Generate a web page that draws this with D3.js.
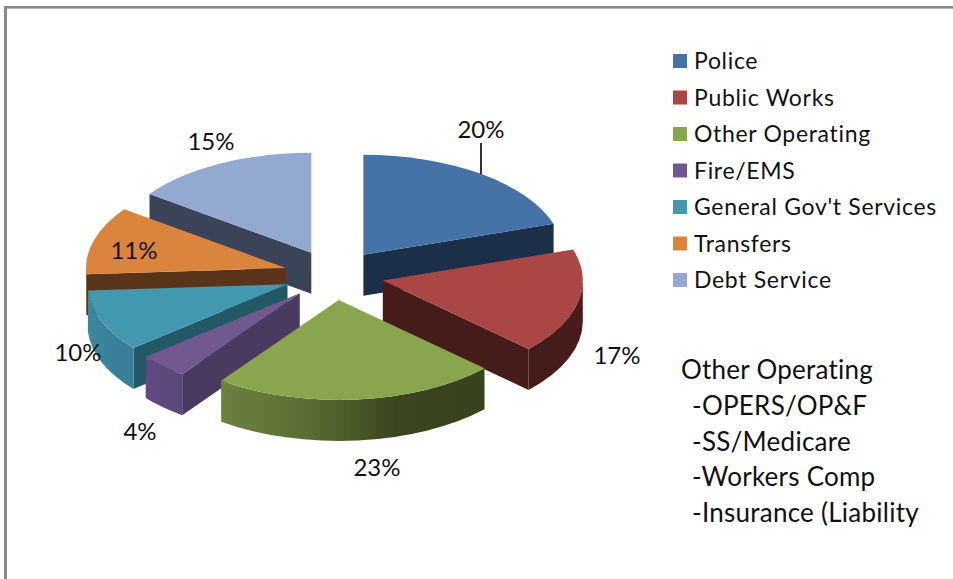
<!DOCTYPE html>
<html>
<head>
<meta charset="utf-8">
<script src="https://cdn.jsdelivr.net/npm/d3@7/dist/d3.min.js"></script>
<style>
  html, body { margin: 0; padding: 0; background: #fff; }
  svg { display: block; }
  text { font-family: Lato, "Open Sans", sans-serif; fill: #111; }
</style>
</head>
<body>
<script>
// Budget shares, percent of the total
const categories = ["Police", "Public Works", "Other Operating", "Fire/EMS",
                    "General Gov't Services", "Transfers", "Debt Service"];
const shares = [20, 17, 23, 4, 10, 11, 15];
const noteLines = ["Other Operating", "-OPERS/OP&F", "-SS/Medicare", "-Workers Comp", "-Insurance (Liability"];

// Slice palette: top face, radial wall, rim gradient from left to right
const topColors = ["#4572A7", "#AA4643", "#89A54E", "#71588F", "#4198AF", "#DB843D", "#93A9CF"];
const wallColors = ["#1b2f48", "#461c1a", "#37421c", "#4b3a60", "#235866", "#5a3418", "#3b4358"];
const rimStops = [
  ["#1b2f48", "#1b2f48"],
  ["#461c1a", "#461c1a", "#4a1c1a"],
  ["#6c8240", "#5a6d33", "#3a461e", "#37421c"],
  ["#604a80", "#5c4779"],
  ["#3c88a0", "#387c93"],
  ["#5a3418", "#5a3418"],
  ["#3b4358", "#3b4358"]
];
// Label centres relative to the pie centre
const labelOffsets = [[147, -147], [283, 79], [43, 191], [-194, 155], [-256, 76], [-200, -26], [-123, -135]];

const width = 953, height = 579;
const cx = 334, cy = 275;          // pie centre before the slices are pulled apart
const rx = 200, ry = 100;          // radii of the tilted top ellipse
const depth = 41;                  // thickness of the pie
const explode = 0.25;              // pull-out as a fraction of the radius

const svg = d3.select("body").append("svg").attr("width", width).attr("height", height);
const defs = svg.append("defs");

// Frame along the top and left edges
svg.append("rect").attr("x", 4).attr("y", 6).attr("width", width - 4).attr("height", 2.6).attr("fill", "#8a8a8a");
svg.append("rect").attr("x", 4).attr("y", 6).attr("width", 3).attr("height", height - 6).attr("fill", "#8a8a8a");

const slices = d3.pie().sort(null).value(d => d)(shares).map((s, i) => {
  const mid = (s.startAngle + s.endAngle) / 2;
  return {
    ...s, i, mid,
    ox: cx + rx * explode * Math.sin(mid),
    oy: cy - ry * explode * Math.cos(mid)
  };
});

const topArc = d3.arc().innerRadius(0).outerRadius(rx);
const px = (s, a) => s.ox + rx * Math.sin(a);
const py = (s, a) => s.oy - ry * Math.cos(a);

// Flat wall running from the slice's apex out to the rim at angle a
function radialWall(s, a) {
  const p = d3.path();
  p.moveTo(s.ox, s.oy);
  p.lineTo(px(s, a), py(s, a));
  p.lineTo(px(s, a), py(s, a) + depth);
  p.lineTo(s.ox, s.oy + depth);
  p.closePath();
  return p.toString();
}

// Curved rim between two angles on the front half of the ellipse
function rimWall(s, a0, a1) {
  return `M${px(s, a0)},${py(s, a0)}` +
    `A${rx},${ry} 0 0 1 ${px(s, a1)},${py(s, a1)}` +
    `L${px(s, a1)},${py(s, a1) + depth}` +
    `A${rx},${ry} 0 0 0 ${px(s, a0)},${py(s, a0) + depth}Z`;
}

// Back slices first, so nearer ones paint over them
const ordered = slices.slice().sort((a, b) => (-Math.cos(a.mid)) - (-Math.cos(b.mid)));

ordered.forEach(s => {
  const g = svg.append("g");
  const a0 = Math.max(s.startAngle, Math.PI / 2);
  const a1 = Math.min(s.endAngle, Math.PI * 1.5);

  if (Math.sin(s.startAngle) < -1e-6) {
    g.append("path").attr("d", radialWall(s, s.startAngle)).attr("fill", wallColors[s.i]);
  }
  if (Math.sin(s.endAngle) > 1e-6) {
    g.append("path").attr("d", radialWall(s, s.endAngle)).attr("fill", wallColors[s.i]);
  }
  if (a1 > a0) {
    const xs = [px(s, a0), px(s, a1)];
    const id = "rim" + s.i;
    const grad = defs.append("linearGradient").attr("id", id)
      .attr("gradientUnits", "userSpaceOnUse")
      .attr("x1", d3.min(xs)).attr("x2", d3.max(xs)).attr("y1", 0).attr("y2", 0);
    rimStops[s.i].forEach((c, k, all) => {
      grad.append("stop").attr("offset", k / (all.length - 1)).attr("stop-color", c);
    });
    g.append("path").attr("d", rimWall(s, a0, a1)).attr("fill", `url(#${id})`);
  }
  g.append("path")
    .attr("d", topArc(s))
    .attr("transform", `translate(${s.ox},${s.oy}) scale(1,${ry / rx})`)
    .attr("fill", topColors[s.i]);
});

// Percent labels
svg.selectAll("text.pct").data(slices).join("text")
  .attr("class", "pct")
  .attr("x", s => cx + labelOffsets[s.i][0])
  .attr("y", s => cy + labelOffsets[s.i][1])
  .attr("text-anchor", "middle")
  .attr("dominant-baseline", "central")
  .attr("font-size", 24)
  .text(s => s.data + "%");

// Leader line for the Police label
const police = slices[0];
svg.append("line")
  .attr("x1", cx + labelOffsets[0][0]).attr("x2", cx + labelOffsets[0][0])
  .attr("y1", cy + labelOffsets[0][1] + 15)
  .attr("y2", police.oy - ry * Math.cos(Math.asin((cx + labelOffsets[0][0] - police.ox) / rx)))
  .attr("stroke", "#000").attr("stroke-width", 1.6);

// Legend
const legendY = d3.scalePoint().domain(categories).range([60, 279]);
const legend = svg.append("g").selectAll("g").data(categories).join("g")
  .attr("transform", d => `translate(673,${legendY(d)})`);
legend.append("rect").attr("x", 0).attr("y", -6).attr("width", 14).attr("height", 14)
  .attr("fill", (d, i) => topColors[i]);
legend.append("text").attr("x", 21).attr("y", 0)
  .attr("dominant-baseline", "central")
  .attr("font-size", 23)
  .attr("letter-spacing", 0.68)
  .text(d => d);

// Side note
const noteY = d3.scalePoint().domain(noteLines).range([369, 512]);
svg.append("g").selectAll("text").data(noteLines).join("text")
  .attr("x", (d, i) => i === 0 ? 681 : 692)
  .attr("y", d => noteY(d))
  .attr("dominant-baseline", "central")
  .attr("font-size", 26)
  .attr("letter-spacing", 0.25)
  .text(d => d);
</script>
</body>
</html>
